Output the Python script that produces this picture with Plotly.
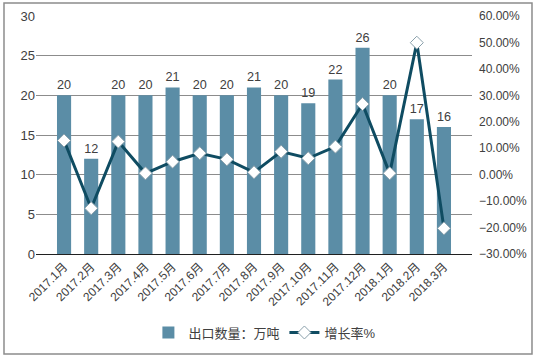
import plotly.graph_objects as go

categories = ["2017.1月", "2017.2月", "2017.3月", "2017.4月", "2017.5月", "2017.6月", "2017.7月",
              "2017.8月", "2017.9月", "2017.10月", "2017.11月", "2017.12月", "2018.1月", "2018.2月", "2018.3月"]
export_volume = [20, 12, 20, 20, 21, 20, 20, 21, 20, 19, 22, 26, 20, 17, 16]
growth_rate = [0.129, -0.127, 0.125, 0.005, 0.049, 0.081, 0.058, 0.009, 0.087, 0.062, 0.106, 0.267, 0.005, 0.499, -0.203]

FONT = "Liberation Sans, Noto Sans CJK SC, Arial, sans-serif"
TXT = "#404040"

fig = go.Figure()
fig.add_trace(go.Bar(
    x=categories, y=export_volume, name="出口数量：万吨",
    marker=dict(color="#5B8DA6", line=dict(width=0)),
    text=[str(v) for v in export_volume], textposition="outside",
    textfont=dict(size=13, color=TXT, family=FONT), cliponaxis=False,
))
fig.add_trace(go.Scatter(
    x=categories, y=growth_rate, name="增长率%", yaxis="y2", mode="lines+markers",
    line=dict(color="#0F4C62", width=3),
    marker=dict(symbol="diamond", size=10, color="white", line=dict(color="#8aa0ab", width=1)),
    cliponaxis=False,
))

fig.update_layout(
    width=540, height=359,
    margin=dict(l=36, r=68, t=16, b=105, autoexpand=False),
    paper_bgcolor="white", plot_bgcolor="white",
    font=dict(family=FONT, color=TXT, size=12),
    bargap=0.48,
    showlegend=True,
    legend=dict(orientation="h", x=0.525, xanchor="center", y=-0.33, yanchor="middle",
                font=dict(size=13, color=TXT, family=FONT), traceorder="normal"),
    xaxis=dict(tickangle=-45, tickfont=dict(size=12, color=TXT), showgrid=False, automargin=False,
               showline=True, linecolor="#202020", linewidth=1, ticks=""),
    yaxis=dict(range=[0, 30], dtick=5, showgrid=True, gridcolor="#8c8c8c", gridwidth=1, automargin=False,
               zeroline=False, tickfont=dict(size=13, color=TXT), ticks=""),
    yaxis2=dict(range=[-0.3, 0.6], dtick=0.1, tickformat=".2%", overlaying="y", side="right", automargin=False,
                showgrid=False, zeroline=False, tickfont=dict(size=12, color=TXT), ticks="",
                ticklabelstandoff=6),
    shapes=[dict(type="rect", xref="paper", yref="paper",
                 x0=-0.0734, x1=1.1376, y0=-0.42, y1=1.0546,
                 line=dict(color="#8c8c8c", width=1.5), fillcolor="rgba(0,0,0,0)")],
)

fig.write_html("out.html", config={"displayModeBar": False},
               post_script="document.body.style.margin='0';")
